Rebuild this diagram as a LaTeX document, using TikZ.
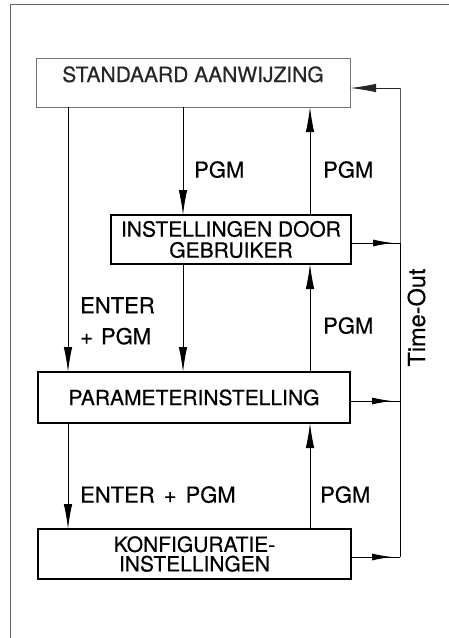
\documentclass[tikz,border=0pt]{standalone}
\usepackage{fontspec}
\setmainfont[FakeBold=0.45]{TeX Gyre Heros}
\usetikzlibrary{arrows.meta}
\begin{document}
\begin{tikzpicture}[x=1pt,y=-1pt,
  box/.style={draw, line width=1.3pt, inner sep=0pt, outer sep=0pt, align=center, font=\fontsize{21}{21}\selectfont},
  link/.style={line width=1pt, -{Latex[length=25pt,width=8.5pt]}},
  outlink/.style={line width=1pt, -{Latex[length=20pt,width=7pt]}},
  wire/.style={line width=1pt},
  lbl/.style={inner sep=0pt, anchor=north west, align=left, font=\fontsize{22}{31}\selectfont},
  frame/.style={draw=black!60, line width=0.7pt}
]
\useasboundingbox (0,0) rectangle (449,638);

% page frame
\coordinate (fa) at (10,4.5);
\coordinate (fb) at (449,4.5);
\coordinate (fc) at (10,638);
\draw[frame] (fb) -- (fa) -- (fc);

% boxes
\node[box, draw=black!55, line width=0.9pt, minimum width=314pt, minimum height=49pt,
      text height=15pt, text depth=16pt, text=black!85] (std) at (193,82.5) {STANDAARD AANWIJZING};
\node[box, minimum width=240pt, minimum height=49pt] (usr) at (231,239.5) {INSTELLINGEN DOOR\\GEBRUIKER};
\node[box, minimum width=312pt, minimum height=51pt] (par) at (194,397.5) {PARAMETERINSTELLING};
\node[box, minimum width=313pt, minimum height=50pt, font=\fontsize{21}{19.5}\selectfont] (kon) at (194.5,554) {KONFIGURATIE-\\INSTELLINGEN};

% columns
\coordinate (xa) at (68,0);
\coordinate (xb) at (183,0);
\coordinate (xc) at (310,0);

% vertical connectors
\draw[link] (std.south -| xa) -- (par.north -| xa);
\draw[link] (std.south -| xb) -- (usr.north -| xb);
\draw[link] (usr.north -| xc) -- (std.south -| xc);
\draw[link] (usr.south -| xb) -- (par.north -| xb);
\draw[link] (par.north -| xc) -- (usr.south -| xc);
\draw[link] (par.south -| xa) -- (kon.north -| xa);
\draw[link] (kon.north -| xc) -- (par.south -| xc);

% time-out bus
\coordinate (tt) at (400,88);
\coordinate (ua) at (400,243);
\coordinate (pa) at (400,401);
\coordinate (ka) at (400,557);
\draw[wire, black!65] (tt) -- (ua);
\draw[wire] (ua) -- (ka);
\draw[link, black!85, -{Latex[length=26pt,width=8.5pt]}] (tt) -- (std.east |- tt);
\draw[wire] (usr.east |- ua) -- (ua);
\draw[outlink] (usr.east |- ua) -- ([xshift=-7pt]ua);
\draw[wire] (par.east |- pa) -- (pa);
\draw[outlink] (par.east |- pa) -- ([xshift=-8pt]pa);
\draw[wire] (kon.east |- ka) -- (ka);
\draw[outlink] (kon.east |- ka) -- ([xshift=-8pt]ka);

% labels
\node[lbl] (l1) at (194,161) {PGM};
\node[lbl] (l2) at (323,161) {PGM};
\node[lbl] (l3) at (80,297) {ENTER\\+\hspace{8pt}PGM};
\node[lbl] (l4) at (323,317) {PGM};
\node[lbl] (l5) at (80,486) {ENTER\hspace{9pt}+\hspace{9pt}PGM};
\node[lbl] (l6) at (320,486) {PGM};
\node[rotate=90, inner sep=0pt, font=\fontsize{23.5}{23.5}\selectfont] (to) at (416.5,317.5) {Time-Out};
\end{tikzpicture}
\end{document}
